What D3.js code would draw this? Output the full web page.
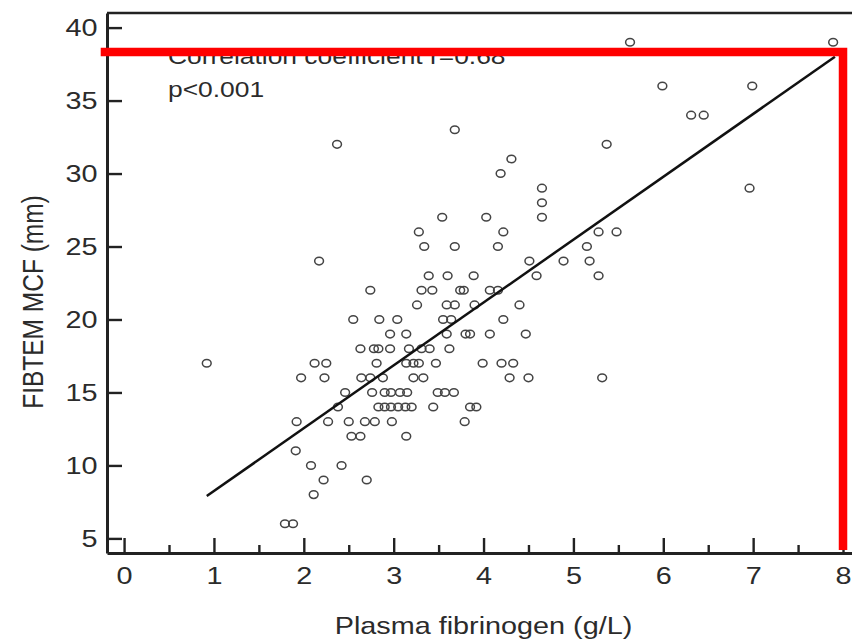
<!DOCTYPE html>
<html>
<head>
<meta charset="utf-8">
<script src="https://cdn.jsdelivr.net/npm/d3@7"></script>
<style>
  body { margin: 0; background: #fff; }
  svg { display: block; font-family: "Liberation Sans", Arial, sans-serif; }
</style>
</head>
<body>
<div id="chart"></div>
<script>
// Points, one pair per patient (MCF values are whole mm)
const mcf = [
  6, 6,
  8,
  9, 9,
  10, 10,
  11,
  12, 12, 12,
  13, 13, 13, 13, 13, 13, 13,
  14, 14, 14, 14, 14, 14, 14, 14, 14, 14,
  15, 15, 15, 15, 15, 15, 15, 15, 15,
  16, 16, 16, 16, 16, 16, 16, 16, 16, 16,
  17, 17, 17, 17, 17, 17, 17, 17, 17, 17, 17,
  18, 18, 18, 18, 18, 18, 18, 18,
  19, 19, 19, 19, 19, 19, 19,
  20, 20, 20, 20, 20, 20,
  21, 21, 21, 21, 21,
  22, 22, 22, 22, 22, 22, 22,
  23, 23, 23, 23, 23,
  24, 24, 24, 24,
  25, 25, 25, 25,
  26, 26, 26, 26,
  27, 27, 27,
  28,
  29, 29,
  30,
  31,
  32, 32,
  33,
  34, 34,
  36, 36,
  39, 39
];
const fibrinogen = [
  1.79, 1.88,
  2.11,
  2.22, 2.70,
  2.08, 2.42,
  1.91,
  2.53, 2.63, 3.14,
  1.92, 2.27, 2.50, 2.68, 2.79, 2.98, 3.79,
  2.38, 2.83, 2.90, 2.97, 3.05, 3.13, 3.20, 3.44, 3.85, 3.92,
  2.46, 2.76, 2.90, 2.97, 3.07, 3.15, 3.49, 3.57, 3.67,
  1.97, 2.23, 2.64, 2.74, 2.88, 3.22, 3.33, 4.29, 4.50, 5.32,
  0.92, 2.12, 2.25, 2.81, 3.14, 3.22, 3.28, 3.47, 3.99, 4.20, 4.33,
  2.63, 2.78, 2.83, 2.96, 3.17, 3.31, 3.40, 3.62,
  2.96, 3.14, 3.59, 3.80, 3.85, 4.07, 4.47,
  2.55, 2.84, 3.04, 3.55, 3.64, 4.22,
  3.26, 3.59, 3.68, 3.90, 4.40,
  2.74, 3.31, 3.43, 3.74, 3.78, 4.07, 4.16,
  3.39, 3.60, 3.89, 4.59, 5.28,
  2.17, 4.51, 4.89, 5.18,
  3.34, 3.68, 4.16, 5.15,
  3.28, 4.22, 5.28, 5.48,
  3.54, 4.03, 4.65,
  4.65,
  4.65, 6.96,
  4.19,
  4.31,
  2.37, 5.37,
  3.68,
  6.31, 6.45,
  5.99, 6.99,
  5.63, 7.89
];

// Regression line ends as drawn
const fitX = [0.92, 7.91];
const fitY = [7.9, 38.0];

const xTicks = [0, 1, 2, 3, 4, 5, 6, 7, 8];
const xMinorTicks = [0.5, 1.5, 2.5, 3.5, 4.5, 5.5, 6.5, 7.5];
const yTicks = [5, 10, 15, 20, 25, 30, 35, 40];

const annotation = ['Correlation coefficient r=0.68', 'p<0.001'];
const xTitle = 'Plasma fibrinogen (g/L)';
const yTitle = 'FIBTEM MCF (mm)';

// red marker box drawn over the figure (data units)
const markLeft = -0.26, markRight = 8.0, markTop = 38.33, markBottom = 4.2;

const width = 852;
const height = 642;
const plot = { left: 107, right: 852, top: 13, bottom: 553 };
const stretch = 1.2; // the source figure is widened horizontally
const textColor = '#2b2b2b';

const svg = d3.select('#chart').append('svg')
  .attr('width', width)
  .attr('height', height);

const x = d3.scaleLinear().domain([-0.19, 8.1]).range([plot.left, plot.right]);
const y = d3.scaleLinear().domain([4, 41]).range([plot.bottom, plot.top]);

const points = fibrinogen.map((f, i) => ({ f, m: mcf[i] }));

// frame top line
svg.append('line')
  .attr('x1', plot.left).attr('x2', plot.right)
  .attr('y1', plot.top).attr('y2', plot.top)
  .attr('stroke', '#222').attr('stroke-width', 2.5);

// points
svg.append('g')
  .selectAll('ellipse')
  .data(points)
  .join('ellipse')
  .attr('cx', d => x(d.f))
  .attr('cy', d => y(d.m))
  .attr('rx', 4.4)
  .attr('ry', 3.8)
  .attr('fill', 'none')
  .attr('stroke', '#444')
  .attr('stroke-width', 1.5);

// regression line
svg.append('line')
  .attr('x1', x(fitX[0])).attr('y1', y(fitY[0]))
  .attr('x2', x(fitX[1])).attr('y2', y(fitY[1]))
  .attr('stroke', '#111').attr('stroke-width', 2.5);

// axes, ticks point inward
const xAxis = svg.append('g')
  .attr('transform', `translate(0,${plot.bottom})`)
  .call(d3.axisBottom(x).tickValues(xTicks).tickSize(-15).tickSizeOuter(0).tickPadding(14));

svg.append('g')
  .attr('transform', `translate(0,${plot.bottom})`)
  .call(d3.axisBottom(x).tickValues(xMinorTicks).tickSize(-8).tickSizeOuter(0).tickFormat(''))
  .call(g => g.select('.domain').remove());

const yAxis = svg.append('g')
  .attr('transform', `translate(${plot.left},0)`)
  .call(d3.axisLeft(y).tickValues(yTicks).tickSize(-15).tickSizeOuter(0).tickPadding(8));

svg.selectAll('.domain').attr('stroke', '#222').attr('stroke-width', 3);
svg.selectAll('.tick line').attr('stroke', '#222').attr('stroke-width', 2.4);

[xAxis, yAxis].forEach(axis => axis.selectAll('text')
  .attr('font-size', 24)
  .attr('fill', textColor)
  .attr('font-family', '"Liberation Sans", Arial, sans-serif')
  .attr('transform', `scale(${stretch},1)`));

// axis titles
svg.append('text')
  .attr('transform', `translate(${(plot.left + 860) / 2},634) scale(${stretch},1)`)
  .attr('text-anchor', 'middle')
  .attr('font-size', 24)
  .attr('fill', textColor)
  .text(xTitle);

svg.append('text')
  .attr('transform', `translate(43,302) scale(${stretch},1) rotate(-90)`)
  .attr('text-anchor', 'middle')
  .attr('font-size', 24.5)
  .attr('fill', textColor)
  .text(yTitle);

// annotation
svg.append('g')
  .selectAll('text')
  .data(annotation)
  .join('text')
  .attr('transform', (d, i) => `translate(168,${64 + i * 33}) scale(${stretch},1)`)
  .attr('font-size', 22)
  .attr('fill', textColor)
  .text(d => d);

// red marker lines on top
svg.append('path')
  .attr('d', `M${x(markLeft)},${y(markTop)}H${x(markRight)}V${y(markBottom)}`)
  .attr('fill', 'none')
  .attr('stroke', '#ff0000')
  .attr('stroke-width', 8.5)
  .attr('stroke-linejoin', 'miter');
</script>
</body>
</html>
